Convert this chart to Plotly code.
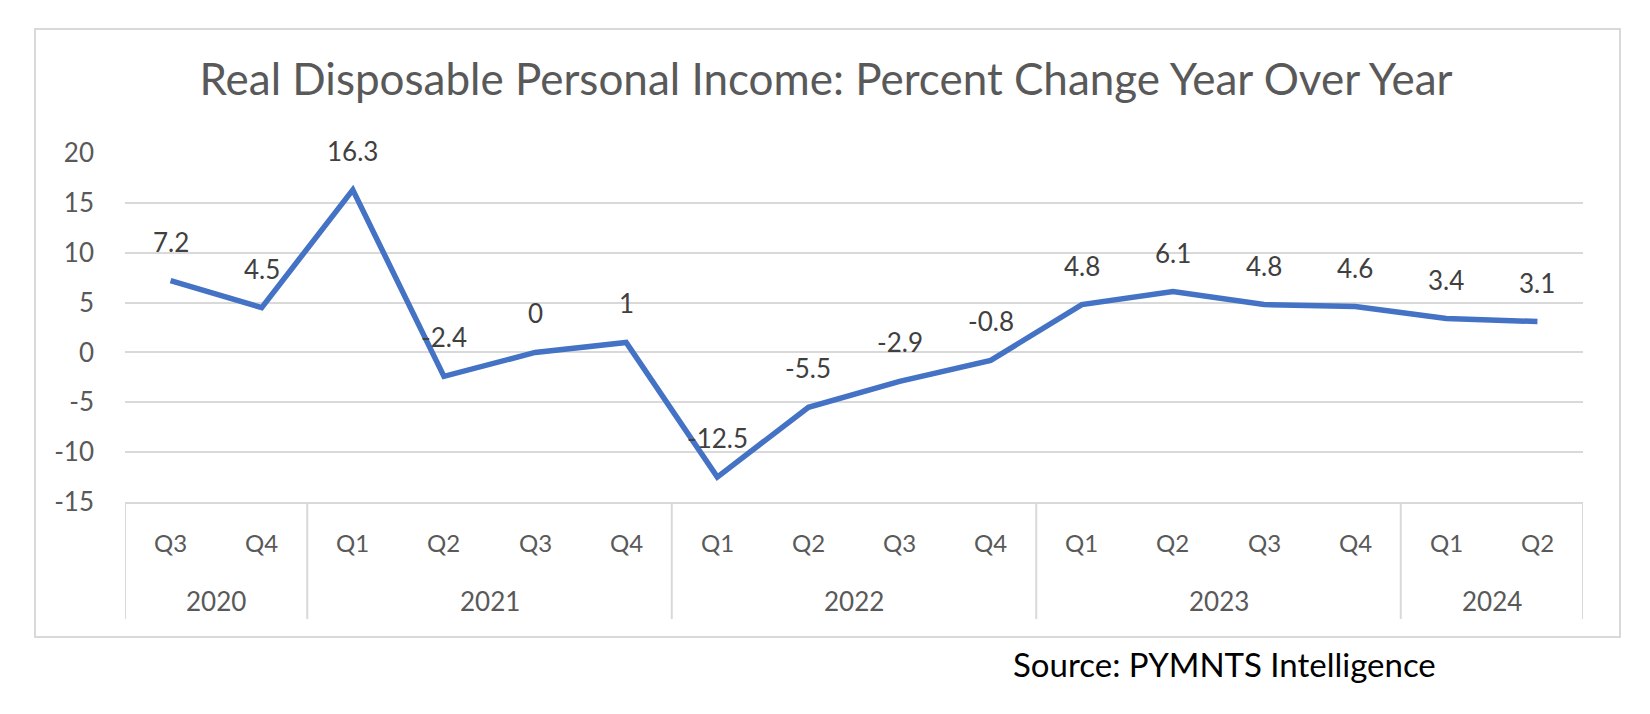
import plotly.graph_objects as go

# ---- data ----
quarters = ["Q3", "Q4", "Q1", "Q2", "Q3", "Q4", "Q1", "Q2", "Q3", "Q4",
            "Q1", "Q2", "Q3", "Q4", "Q1", "Q2"]
years = ["2020", "2020", "2021", "2021", "2021", "2021", "2022", "2022",
         "2022", "2022", "2023", "2023", "2023", "2023", "2024", "2024"]
values = [7.2, 4.5, 16.3, -2.4, 0, 1, -12.5, -5.5, -2.9, -0.8,
          4.8, 6.1, 4.8, 4.6, 3.4, 3.1]
value_labels = ["7.2", "4.5", "16.3", "-2.4", "0", "1", "-12.5", "-5.5", "-2.9",
                "-0.8", "4.8", "6.1", "4.8", "4.6", "3.4", "3.1"]
y_ticks = [-15, -10, -5, 0, 5, 10, 15, 20]
y_tick_text = ["-15", "-10", "-5", "0", "5", "10", "15", "20"]
title_text = "Real Disposable Personal Income: Percent Change Year Over Year"
source_text = "Source: PYMNTS Intelligence"

# ---- layout constants (screen pixels; page body has an 8px margin) ----
OFF = 8
W, H = 1650 - OFF, 714 - OFF
PL, PR, PT, PB = 125 - OFF, 1583 - OFF, 153 - OFF, 502 - OFF
FONT = "Lato"
GRID = "#D9D9D9"
TXT = "#595959"

pw, ph = PR - PL, PB - PT
def px(xs):
    return (xs - OFF - PL) / pw
def py(ys):
    return (PB - (ys - OFF)) / ph

cats = [f"{y} {q}" for y, q in zip(years, quarters)]

fig = go.Figure()
fig.add_trace(go.Scatter(
    x=cats, y=values, mode="lines",
    line=dict(color="#4472C4", width=5.5),
    hoverinfo="skip", showlegend=False,
))

annotations = []
# data labels
for c, v, t in zip(cats, values, value_labels):
    annotations.append(dict(x=c, y=v, xref="x", yref="y", text=t, showarrow=False,
                            yshift=39, font=dict(family=FONT, size=26, color="#404040")))
# quarter labels
for c, q in zip(cats, quarters):
    annotations.append(dict(x=c, y=py(542), xref="x", yref="paper", text=q, showarrow=False,
                            yanchor="middle", font=dict(family=FONT, size=24, color=TXT)))
# year groups
groups = []
for i, yv in enumerate(years):
    if groups and groups[-1][0] == yv:
        groups[-1][2] = i
    else:
        groups.append([yv, i, i])
shapes = []
bounds = [-0.5] + [g[2] + 0.5 for g in groups]
for yv, a, b in groups:
    annotations.append(dict(x=(a + b) / 2, y=py(601), xref="x", yref="paper", text=yv,
                            showarrow=False, yanchor="middle",
                            font=dict(family=FONT, size=26, color=TXT)))
for bx in bounds:
    shapes.append(dict(type="line", xref="x", yref="paper", x0=bx, x1=bx, y0=0, y1=py(619),
                       line=dict(color=GRID, width=2)))
# outer border
shapes.append(dict(type="rect", xref="paper", yref="paper", x0=px(35), x1=px(1620),
                   y0=py(637), y1=py(29), line=dict(color=GRID, width=2), layer="below"))
# source
annotations.append(dict(x=px(1224), y=py(664), xref="paper", yref="paper", text=source_text,
                        showarrow=False, xanchor="center", yanchor="middle",
                        font=dict(family=FONT, size=33, color="#000000")))

fig.update_layout(
    width=W, height=H,
    margin=dict(l=PL, r=W - PR, t=PT, b=H - PB, pad=0),
    paper_bgcolor="white", plot_bgcolor="white",
    title=dict(text=title_text, x=(826 - OFF) / W, xref="container", xanchor="center",
               y=1 - (80 - OFF) / H, yref="container", yanchor="middle",
               font=dict(family=FONT, size=44, color=TXT)),
    xaxis=dict(type="category", range=[-0.5, len(cats) - 0.5], showticklabels=False,
               showgrid=False, zeroline=False, showline=True, linecolor=GRID, linewidth=2,
               ticks=""),
    yaxis=dict(range=[-15, 20], tickvals=y_ticks, ticktext=y_tick_text, showgrid=True,
               gridcolor=GRID, gridwidth=2,
               zeroline=False, showline=False, ticks="", ticklabelstandoff=30,
               tickfont=dict(family=FONT, size=26, color=TXT)),
    annotations=annotations, shapes=shapes,
)

fig.write_html("out.html")
